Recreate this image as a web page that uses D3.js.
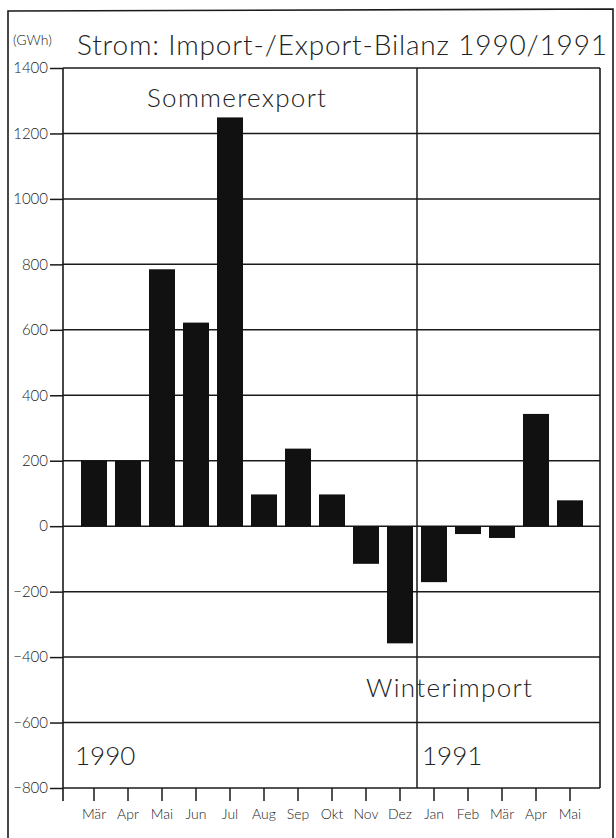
<!DOCTYPE html>
<html><head><meta charset="utf-8">
<script src="https://cdn.jsdelivr.net/npm/d3@7"></script>
<style>
html,body{margin:0;padding:0;background:#fff;}
svg{display:block;}
text{font-family:Lato,"Open Sans",sans-serif;font-weight:300;fill:#222;}
</style></head>
<body>
<script>
const months = ["Mär","Apr","Mai","Jun","Jul","Aug","Sep","Okt","Nov","Dez","Jan","Feb","Mär","Apr","Mai"];
const values = [200, 200, 785, 622, 1249, 97, 237, 97, -115, -358, -171, -24, -36, 343, 79];
const yTicks = [1400,1200,1000,800,600,400,200,0,-200,-400,-600,-800];
const years = ["1990","1991"];
const title = "Strom: Import-/Export-Bilanz 1990/1991";
const unit = "(GWh)";
const notes = ["Sommerexport","Winterimport"];

(function(){
const W = 616, H = 838;
const svg = d3.select("body").append("svg").attr("width", W).attr("height", H);

const pLeft = 63, pRight = 600, pTop = 68, pBottom = 788;
const y = d3.scaleLinear().domain([-800, 1400]).range([pBottom, pTop]);
const x = d3.scaleBand().domain(d3.range(months.length)).range([77, 587])
  .paddingInner(0.235).paddingOuter(0.1175);

const ink = "#1a1a1a";

// outer frame
svg.append("path").attr("d", `M8,${H} L8,11 L613,9 L613,${H}`)
  .attr("fill","none").attr("stroke", ink).attr("stroke-width",1.6);

// gridlines
svg.append("g").selectAll("line").data(yTicks).join("line")
  .attr("x1", pLeft).attr("x2", pRight)
  .attr("y1", d => y(d)).attr("y2", d => y(d))
  .attr("stroke", ink).attr("stroke-width", 1.5);

// y axis
const yAxis = d3.axisLeft(y).tickValues(yTicks).tickSize(13).tickPadding(2).tickFormat(d3.format("d"));
const gy = svg.append("g").attr("transform", `translate(${pLeft},0)`).call(yAxis);
gy.select(".domain").remove();
gy.selectAll(".tick line").attr("stroke", ink).attr("stroke-width",1.5);
gy.selectAll(".tick text").attr("font-size", 15).attr("fill","#444")
  .style("font-family","Lato,'Open Sans',sans-serif").style("font-weight",300);

// vertical axis lines
svg.append("line").attr("x1",pLeft).attr("x2",pLeft).attr("y1",pTop).attr("y2",pBottom+13)
  .attr("stroke",ink).attr("stroke-width",1.6);
svg.append("line").attr("x1",pRight).attr("x2",pRight).attr("y1",pTop).attr("y2",pBottom)
  .attr("stroke",ink).attr("stroke-width",1.6);
const sepX = x(9) + x.bandwidth() + (x.step() - x.bandwidth())/2;
svg.append("line").attr("x1",sepX).attr("x2",sepX).attr("y1",pTop).attr("y2",pBottom)
  .attr("stroke",ink).attr("stroke-width",1.5);

// bars
svg.append("g").selectAll("rect").data(values).join("rect")
  .attr("x", (d,i) => x(i)).attr("width", x.bandwidth())
  .attr("y", d => y(Math.max(0,d))).attr("height", d => Math.abs(y(d) - y(0)))
  .attr("fill", "#111");

// x axis
const xAxis = d3.axisBottom(x).tickSize(13).tickPadding(8).tickFormat(i => months[i]);
const gx = svg.append("g").attr("transform", `translate(0,${pBottom})`).call(xAxis);
gx.select(".domain").remove();
gx.selectAll(".tick line").attr("stroke", ink).attr("stroke-width",1.5);
gx.selectAll(".tick text").attr("font-size", 14).attr("fill","#333")
  .style("font-family","Lato,'Open Sans',sans-serif").style("font-weight",300);

// texts
svg.append("text").attr("x",13).attr("y",45).attr("font-size",14).attr("fill","#444").text(unit);
svg.append("text").attr("x",77).attr("y",55).attr("font-size",28)
  .attr("textLength",530).attr("lengthAdjust","spacing").text(title);
svg.append("text").attr("x",147).attr("y",107).attr("font-size",26)
  .attr("letter-spacing",1.3).text(notes[0]);
svg.append("text").attr("x",366).attr("y",697).attr("font-size",26)
  .attr("letter-spacing",1.3).text(notes[1]);
svg.append("text").attr("x",75).attr("y",765).attr("font-size",26).text(years[0]);
svg.append("text").attr("x",sepX+5).attr("y",765).attr("font-size",26).text(years[1]);
})();
</script>
</body></html>
